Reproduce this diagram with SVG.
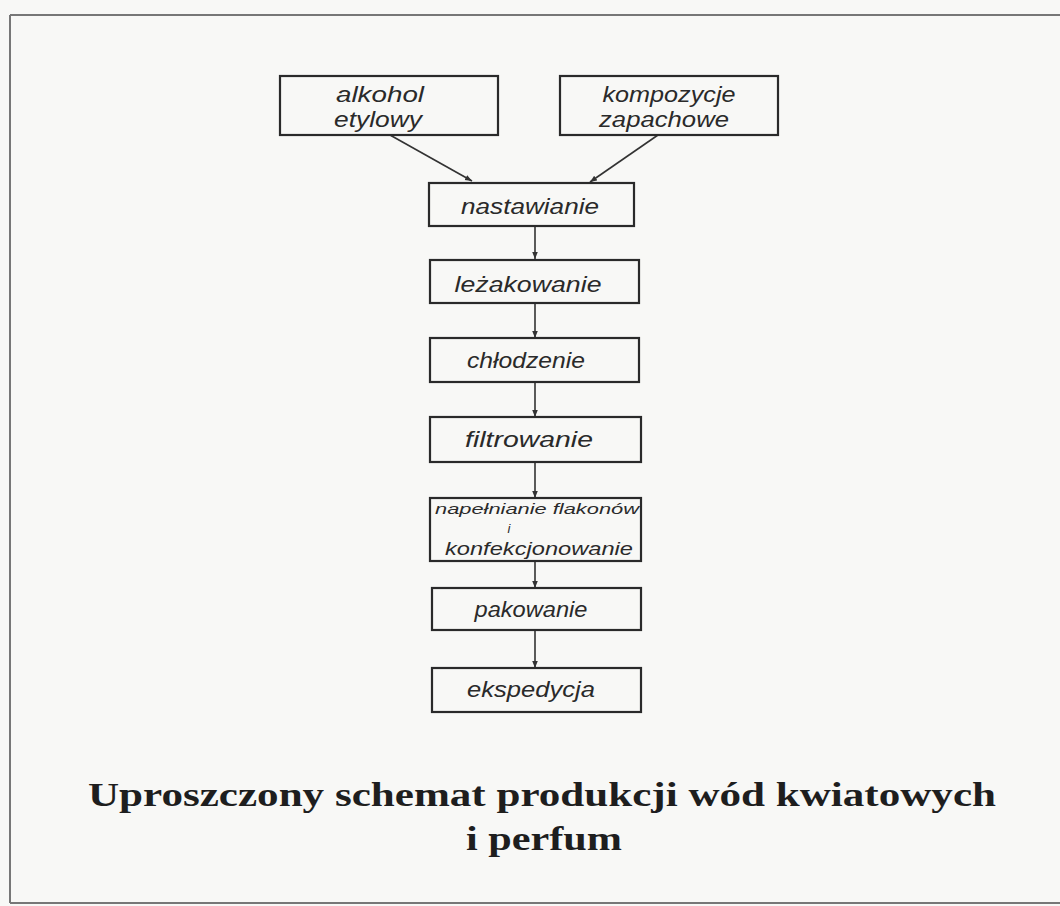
<svg xmlns="http://www.w3.org/2000/svg" width="1060" height="906" viewBox="0 0 1060 906">
<style>
.box{fill:none;stroke:#2a2a2a;stroke-width:2.2}
.lbl{font-family:"Liberation Sans",Arial,sans-serif;font-style:italic;font-size:22px;fill:#2a2a2a;text-anchor:middle}
.con{stroke:#333;stroke-width:1.6;fill:none}
.title{font-family:"Liberation Serif","Times New Roman",serif;font-weight:bold;font-size:34px;fill:#1e1e1e;text-anchor:middle}
</style>
<defs>
<marker id="ah" viewBox="0 0 10 10" refX="10" refY="5" markerWidth="7" markerHeight="7" orient="auto" markerUnits="userSpaceOnUse">
<path d="M0,1 L10,5 L0,9 z" fill="#333"/>
</marker>
</defs>
<rect width="1060" height="906" fill="#f8f8f6"/>
<path d="M10,15 L1060,15 M10,15 L10,903 M10,903 L1060,903" stroke="#777" stroke-width="2" fill="none"/>
<g id="connectors">
<line class="con" x1="390" y1="135" x2="472" y2="181" marker-end="url(#ah)"/>
<line class="con" x1="658" y1="135" x2="590" y2="182" marker-end="url(#ah)"/>
<line class="con" x1="535" y1="226" x2="535" y2="259" marker-end="url(#ah)"/>
<line class="con" x1="535" y1="303" x2="535" y2="338" marker-end="url(#ah)"/>
<line class="con" x1="535" y1="382" x2="535" y2="417" marker-end="url(#ah)"/>
<line class="con" x1="535" y1="462" x2="535" y2="498" marker-end="url(#ah)"/>
<line class="con" x1="535" y1="561" x2="535" y2="588" marker-end="url(#ah)"/>
<line class="con" x1="535" y1="630" x2="535" y2="668" marker-end="url(#ah)"/>
</g>
<g id="n-alkohol">
<rect class="box" x="280" y="76" width="218" height="59"/>
<text class="lbl" x="380" y="102" textLength="88" lengthAdjust="spacingAndGlyphs">alkohol</text>
<text class="lbl" x="378" y="127" textLength="88" lengthAdjust="spacingAndGlyphs">etylowy</text>
</g>
<g id="n-kompozycje">
<rect class="box" x="560" y="76" width="218" height="59"/>
<text class="lbl" x="669" y="102" textLength="133" lengthAdjust="spacingAndGlyphs">kompozycje</text>
<text class="lbl" x="664" y="127" textLength="130" lengthAdjust="spacingAndGlyphs">zapachowe</text>
</g>
<g id="n-nastawianie">
<rect class="box" x="429" y="183" width="205" height="43"/>
<text class="lbl" x="530" y="214" textLength="138" lengthAdjust="spacingAndGlyphs">nastawianie</text>
</g>
<g id="n-lezakowanie">
<rect class="box" x="430" y="260" width="209" height="43"/>
<text class="lbl" x="528" y="292" textLength="147" lengthAdjust="spacingAndGlyphs">leżakowanie</text>
</g>
<g id="n-chlodzenie">
<rect class="box" x="430" y="338" width="209" height="44"/>
<text class="lbl" x="526" y="368" textLength="118" lengthAdjust="spacingAndGlyphs">chłodzenie</text>
</g>
<g id="n-filtrowanie">
<rect class="box" x="430" y="417" width="211" height="45"/>
<text class="lbl" x="529" y="447" textLength="128" lengthAdjust="spacingAndGlyphs">filtrowanie</text>
</g>
<g id="n-napelnianie">
<rect class="box" x="430" y="498" width="211" height="63"/>
<text class="lbl"><tspan x="537" y="514" font-size="15" textLength="204" lengthAdjust="spacingAndGlyphs">napełnianie flakonów</tspan><tspan x="509" y="533" font-size="13">i</tspan><tspan x="539" y="555" font-size="18" textLength="188" lengthAdjust="spacingAndGlyphs">konfekcjonowanie</tspan></text>
</g>
<g id="n-pakowanie">
<rect class="box" x="432" y="588" width="209" height="42"/>
<text class="lbl" x="531" y="617" textLength="113" lengthAdjust="spacingAndGlyphs">pakowanie</text>
</g>
<g id="n-ekspedycja">
<rect class="box" x="432" y="668" width="209" height="44"/>
<text class="lbl" x="531" y="697" textLength="128" lengthAdjust="spacingAndGlyphs">ekspedycja</text>
</g>
<g id="caption">
<text class="title" x="542" y="806" textLength="908" lengthAdjust="spacingAndGlyphs">Uproszczony schemat produkcji wód kwiatowych</text>
<text class="title" x="544" y="850" textLength="156" lengthAdjust="spacingAndGlyphs">i perfum</text>
</g>
</svg>
